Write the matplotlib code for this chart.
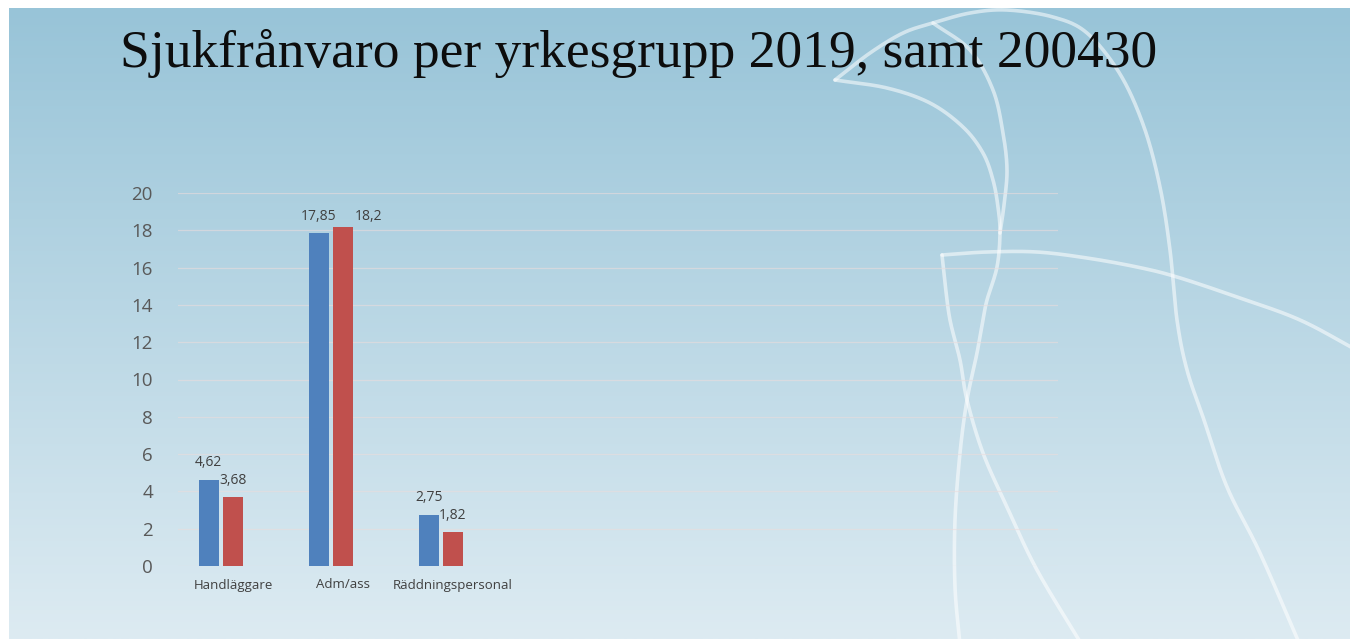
import numpy as np
import matplotlib
matplotlib.use("Agg")
import matplotlib.pyplot as plt
from matplotlib.patches import Rectangle

# ---- data -------------------------------------------------------------
categories = ["Handläggare", "Adm/ass", "Räddningspersonal"]
values_2019 = [4.62, 17.85, 2.75]
values_200430 = [3.68, 18.2, 1.82]
yticks = [0, 2, 4, 6, 8, 10, 12, 14, 16, 18, 20]
title = "Sjukfrånvaro per yrkesgrupp 2019, samt 200430"

W, H = 1354, 639
fig = plt.figure(figsize=(W / 100, H / 100), dpi=100)
fig.patch.set_facecolor("white")

# ---- slide background: vertical gradient with white swooshes ------------
bg = fig.add_axes([0, 0, 1, 1])
bg.set_xlim(0, W)
bg.set_ylim(H, 0)
bg.axis("off")
top = np.array([152, 196, 216]) / 255
bottom = np.array([221, 235, 242]) / 255
t = np.linspace(0, 1, 256)[:, None, None]
grad = top * (1 - t) + bottom * t
grad = np.repeat(grad, 2, axis=1)
slide = (9, 1350, 8, 639)
bg.imshow(grad, extent=[slide[0], slide[1], slide[3], slide[2]],
          aspect="auto", interpolation="bilinear", zorder=0)
clip = Rectangle((slide[0], slide[2]), slide[1] - slide[0], slide[3] - slide[2],
                 transform=bg.transData, visible=False)
bg.add_patch(clip)


def smooth(pts, n=24):
    P = np.array(pts, float)
    P = np.vstack([2 * P[0] - P[1], P, 2 * P[-1] - P[-2]])
    out = []
    s = np.linspace(0, 1, n, endpoint=False)[:, None]
    for i in range(1, len(P) - 2):
        p0, p1, p2, p3 = P[i - 1], P[i], P[i + 1], P[i + 2]
        out.append(0.5 * (2 * p1 + (-p0 + p2) * s
                          + (2 * p0 - 5 * p1 + 4 * p2 - p3) * s ** 2
                          + (-p0 + 3 * p1 - 3 * p2 + p3) * s ** 3))
    out.append(P[-2][None])
    return np.vstack(out)


swooshes = [
    [(835, 80), (870, 53), (903, 33), (933, 23), (970, 13), (1007, 10),
     (1053, 17), (1087, 33), (1120, 74), (1144, 127), (1160, 187),
     (1170, 250), (1177, 320), (1187, 370), (1204, 420), (1227, 487),
     (1260, 553), (1300, 645)],
    [(835, 80), (887, 88), (930, 103), (963, 127), (983, 153), (993, 180),
     (998, 207), (1000, 233), (997, 267), (987, 300), (983, 320),
     (977, 353), (967, 400), (960, 453), (955, 520), (955, 587), (960, 645)],
    [(933, 23), (970, 50), (993, 90), (1003, 133), (1007, 170),
     (1004, 205), (1000, 233)],
    [(942, 255), (987, 252), (1037, 252), (1087, 258), (1137, 267),
     (1177, 277), (1237, 297), (1300, 320), (1360, 352)],
    [(942, 255), (945, 283), (950, 320), (960, 360), (967, 400),
     (983, 453), (1007, 507), (1037, 570), (1082, 645)],
]
for pts in swooshes:
    c = smooth(pts)
    ln, = bg.plot(c[:, 0], c[:, 1], color="white", lw=2.6, alpha=0.55,
                  solid_capstyle="round", zorder=1)
    ln.set_clip_path(clip)

# ---- title --------------------------------------------------------------
fig.text(120 / W, 1 - 67 / H, title, fontsize=38.5, family="Liberation Serif",
         color="#0d0d0d", va="baseline", ha="left")

# ---- chart --------------------------------------------------------------
ax = fig.add_axes([178 / W, (H - 566) / H, 880 / W, 373 / H])
ax.patch.set_alpha(0)
for sp in ax.spines.values():
    sp.set_visible(False)

x = np.arange(len(categories))
width = 0.18
off_a, off_b = -0.22, 0.0
blue, red = "#4F81BD", "#C0504D"
bars_a = ax.bar(x + off_a, values_2019, width, color=blue, zorder=3)
bars_b = ax.bar(x + off_b, values_200430, width, color=red, zorder=3)

ax.set_xlim(-0.5, 7.5)
ax.set_ylim(0, 20)
ax.set_yticks(yticks)
ax.set_yticklabels([str(v) for v in yticks])
ax.yaxis.grid(True, color="#EADCDC", lw=0.9, alpha=0.6, zorder=0)
ax.set_axisbelow(True)
ax.tick_params(axis="y", length=0, pad=18, labelsize=13.5, labelcolor="#595959")
for lab in ax.get_yticklabels():
    lab.set_family("Open Sans")
ax.set_xticks(x)
ax.set_xticklabels(categories)
ax.tick_params(axis="x", length=0, pad=9, labelsize=9.5, labelcolor="#404040")
for lab in ax.get_xticklabels():
    lab.set_family("Open Sans")


def fmt(v):
    return f"{v:g}".replace(".", ",")


label_kw = dict(textcoords="offset points", ha="center", va="center",
                fontsize=10, color="#404040", family="Open Sans", zorder=4)
for xi, v in zip(x, values_2019):
    ax.annotate(fmt(v), (xi + off_a, v), xytext=(0, 12.2), **label_kw)
for xi, v in zip(x, values_200430):
    # the tall bar's label sits beside it to clear its neighbour
    dx, dy = (18.5, 7.6) if v > 15 else (0, 12.2)
    ax.annotate(fmt(v), (xi + off_b, v), xytext=(dx, dy), **label_kw)

fig.savefig("out.png", dpi=100)
